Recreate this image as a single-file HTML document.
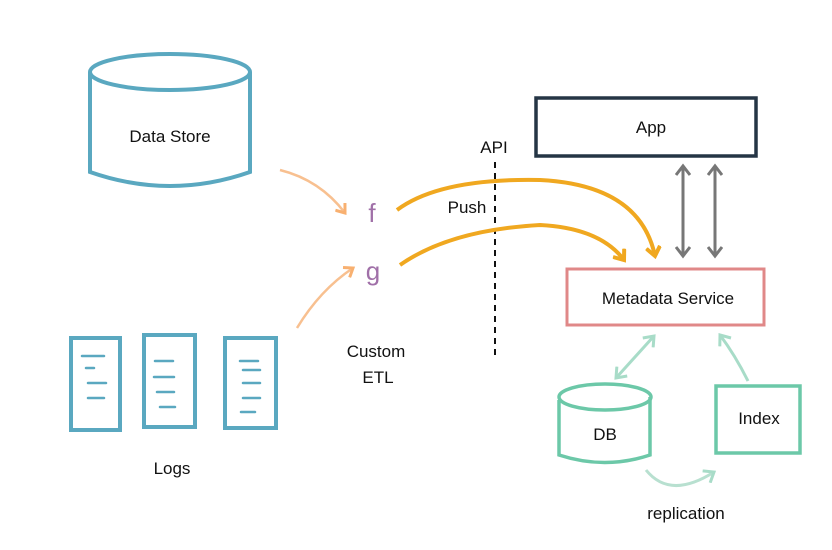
<!DOCTYPE html>
<html><head><style>
body{margin:0;background:#fff;width:832px;height:545px;overflow:hidden}
text{font-family:"Liberation Sans",sans-serif;font-size:17px;fill:#111}
</style></head><body>
<svg width="832" height="545" viewBox="0 0 832 545">
<defs>
<marker id="o" markerUnits="userSpaceOnUse" markerWidth="16" markerHeight="16" refX="10" refY="8" orient="auto"><path d="M1,1 L10,8 L1,15" fill="none" stroke="#f0a820" stroke-width="4"/></marker>
<marker id="lo" markerUnits="userSpaceOnUse" markerWidth="14" markerHeight="14" refX="9" refY="7" orient="auto"><path d="M1,1 L9,7 L1,13" fill="none" stroke="#f8b070" stroke-width="3"/></marker>
<marker id="g" markerUnits="userSpaceOnUse" markerWidth="16" markerHeight="16" refX="10" refY="8" orient="auto-start-reverse"><path d="M1,1 L10,8 L1,15" fill="none" stroke="#777" stroke-width="3"/></marker>
<marker id="t" markerUnits="userSpaceOnUse" markerWidth="16" markerHeight="16" refX="10" refY="8" orient="auto-start-reverse"><path d="M1,1 L10,8 L1,15" fill="none" stroke="#a8dcc8" stroke-width="3"/></marker>
</defs>
<g fill="none" stroke="#5aa8c0" stroke-width="4">
<ellipse cx="170" cy="72" rx="80" ry="18"/>
<path d="M90,72 V172 Q170,200 250,172 V72"/>
</g>
<text x="170" y="142" text-anchor="middle">Data Store</text>
<g fill="none" stroke="#5aa8c0" stroke-width="4">
<rect x="71" y="338" width="49" height="92"/>
<rect x="144" y="335" width="51" height="92"/>
<rect x="225" y="338" width="51" height="90"/>
</g>
<g stroke="#5aa8c0" stroke-width="2.5" stroke-linecap="round">
<path d="M82,356h22M86,368h8M88,383h18M88,398h16"/>
<path d="M155,361h18M154,377h20M157,392h17M160,407h15"/>
<path d="M240,361h18M243,370h17M243,383h17M243,398h17M241,412h14"/>
</g>
<text x="172" y="474" text-anchor="middle">Logs</text>
<path d="M280,170 Q320,180 345,213" fill="none" stroke="#f8c090" stroke-width="2.5" marker-end="url(#lo)"/>
<path d="M297,328 Q320,290 353,268" fill="none" stroke="#f8c090" stroke-width="2.5" marker-end="url(#lo)"/>
<text x="372" y="222" text-anchor="middle" style="fill:#a070a8;font-size:26px">f</text>
<text x="373" y="280" text-anchor="middle" style="fill:#a070a8;font-size:26px">g</text>
<text x="376" y="357" text-anchor="middle">Custom</text>
<text x="378" y="383" text-anchor="middle">ETL</text>
<line x1="495" y1="162" x2="495" y2="356" stroke="#111" stroke-width="2" stroke-dasharray="6,5"/>
<text x="494" y="153" text-anchor="middle">API</text>
<text x="467" y="213" text-anchor="middle">Push</text>
<g fill="none" stroke="#f0a820" stroke-width="4">
<path d="M397,210 Q440,178 540,180 Q640,185 655,256" marker-end="url(#o)"/>
<path d="M400,265 Q450,230 540,225 Q600,228 624,260" marker-end="url(#o)"/>
</g>
<rect x="536" y="98" width="220" height="58" fill="none" stroke="#253545" stroke-width="3.5"/>
<text x="651" y="133" text-anchor="middle">App</text>
<g stroke="#777" stroke-width="3" marker-start="url(#g)" marker-end="url(#g)">
<line x1="683" y1="166" x2="683" y2="256"/>
<line x1="715" y1="166" x2="715" y2="256"/>
</g>
<rect x="567" y="269" width="197" height="56" fill="none" stroke="#e08888" stroke-width="3"/>
<text x="668" y="304" text-anchor="middle">Metadata Service</text>
<path d="M616,378 L654,336" stroke="#a8dcc8" stroke-width="3" marker-start="url(#t)" marker-end="url(#t)"/>
<path d="M748,381 Q735,355 720,335" fill="none" stroke="#a8dcc8" stroke-width="3" marker-end="url(#t)"/>
<path d="M646,470 Q670,500 714,472" fill="none" stroke="#b8e0d0" stroke-width="3" marker-end="url(#t)"/>
<g fill="none" stroke="#6cc8a8" stroke-width="3.5">
<ellipse cx="605" cy="397" rx="46" ry="13"/>
<path d="M559,400 V455 Q605,470 650,455 V397"/>
<rect x="716" y="386" width="84" height="67"/>
</g>
<text x="605" y="440" text-anchor="middle">DB</text>
<text x="759" y="424" text-anchor="middle">Index</text>
<text x="686" y="519" text-anchor="middle">replication</text>
</svg>
</body></html>
